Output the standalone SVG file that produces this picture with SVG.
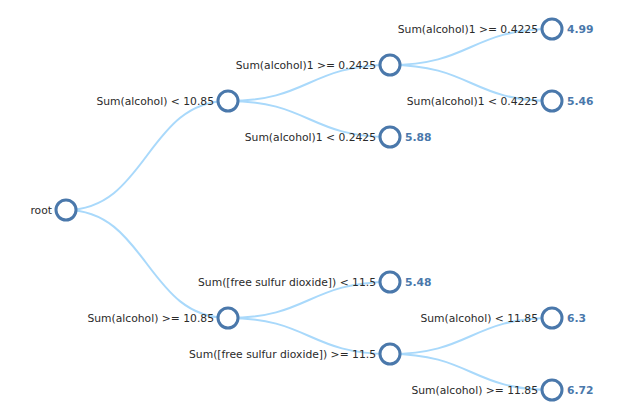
<svg xmlns="http://www.w3.org/2000/svg" width="634" height="419" viewBox="0 0 634 419">
<style>
.link{fill:none;stroke:#a9d9fb;stroke-width:2}
.node circle{fill:#fff;stroke:#4a78ab;stroke-width:3}
.lbl{font-family:"DejaVu Sans",sans-serif;font-size:10.75px;fill:#2a2a2a;text-anchor:end}
.val{font-family:"DejaVu Sans",sans-serif;font-size:10.75px;font-weight:bold;fill:#4a78ab}
</style>
<rect width="634" height="419" fill="#fff"/>
<g id="links">
<path class="link" d="M66,210C147,210 147,101 228,101"/>
<path class="link" d="M66,210C147,210 147,318 228,318"/>
<path class="link" d="M228,101C309,101 309,65 390,65"/>
<path class="link" d="M228,101C309,101 309,137 390,137"/>
<path class="link" d="M390,65C471,65 471,29 552,29"/>
<path class="link" d="M390,65C471,65 471,101 552,101"/>
<path class="link" d="M228,318C309,318 309,282 390,282"/>
<path class="link" d="M228,318C309,318 309,354 390,354"/>
<path class="link" d="M390,354C471,354 471,318 552,318"/>
<path class="link" d="M390,354C471,354 471,390 552,390"/>
</g>
<g id="n-root" class="node"><circle cx="66" cy="210" r="10"/><text class="lbl" x="52" y="214">root</text></g>
<g id="n-a" class="node"><circle cx="228" cy="101" r="10"/><text class="lbl" x="214" y="105">Sum(alcohol) &lt; 10.85</text></g>
<g id="n-b" class="node"><circle cx="228" cy="318" r="10"/><text class="lbl" x="214" y="322">Sum(alcohol) &gt;= 10.85</text></g>
<g id="n-a1" class="node"><circle cx="390" cy="65" r="10"/><text class="lbl" x="376" y="69">Sum(alcohol)1 &gt;= 0.2425</text></g>
<g id="n-a2" class="node"><circle cx="390" cy="137" r="10"/><text class="lbl" x="376" y="141">Sum(alcohol)1 &lt; 0.2425</text><text class="val" x="405" y="141">5.88</text></g>
<g id="n-a1a" class="node"><circle cx="552" cy="29" r="10"/><text class="lbl" x="538" y="33">Sum(alcohol)1 &gt;= 0.4225</text><text class="val" x="567" y="33">4.99</text></g>
<g id="n-a1b" class="node"><circle cx="552" cy="101" r="10"/><text class="lbl" x="538" y="105">Sum(alcohol)1 &lt; 0.4225</text><text class="val" x="567" y="105">5.46</text></g>
<g id="n-b1" class="node"><circle cx="390" cy="282" r="10"/><text class="lbl" x="376" y="286">Sum([free sulfur dioxide]) &lt; 11.5</text><text class="val" x="405" y="286">5.48</text></g>
<g id="n-b2" class="node"><circle cx="390" cy="354" r="10"/><text class="lbl" x="376" y="358">Sum([free sulfur dioxide]) &gt;= 11.5</text></g>
<g id="n-b2a" class="node"><circle cx="552" cy="318" r="10"/><text class="lbl" x="538" y="322">Sum(alcohol) &lt; 11.85</text><text class="val" x="567" y="322">6.3</text></g>
<g id="n-b2b" class="node"><circle cx="552" cy="390" r="10"/><text class="lbl" x="538" y="394">Sum(alcohol) &gt;= 11.85</text><text class="val" x="567" y="394">6.72</text></g>
</svg>
